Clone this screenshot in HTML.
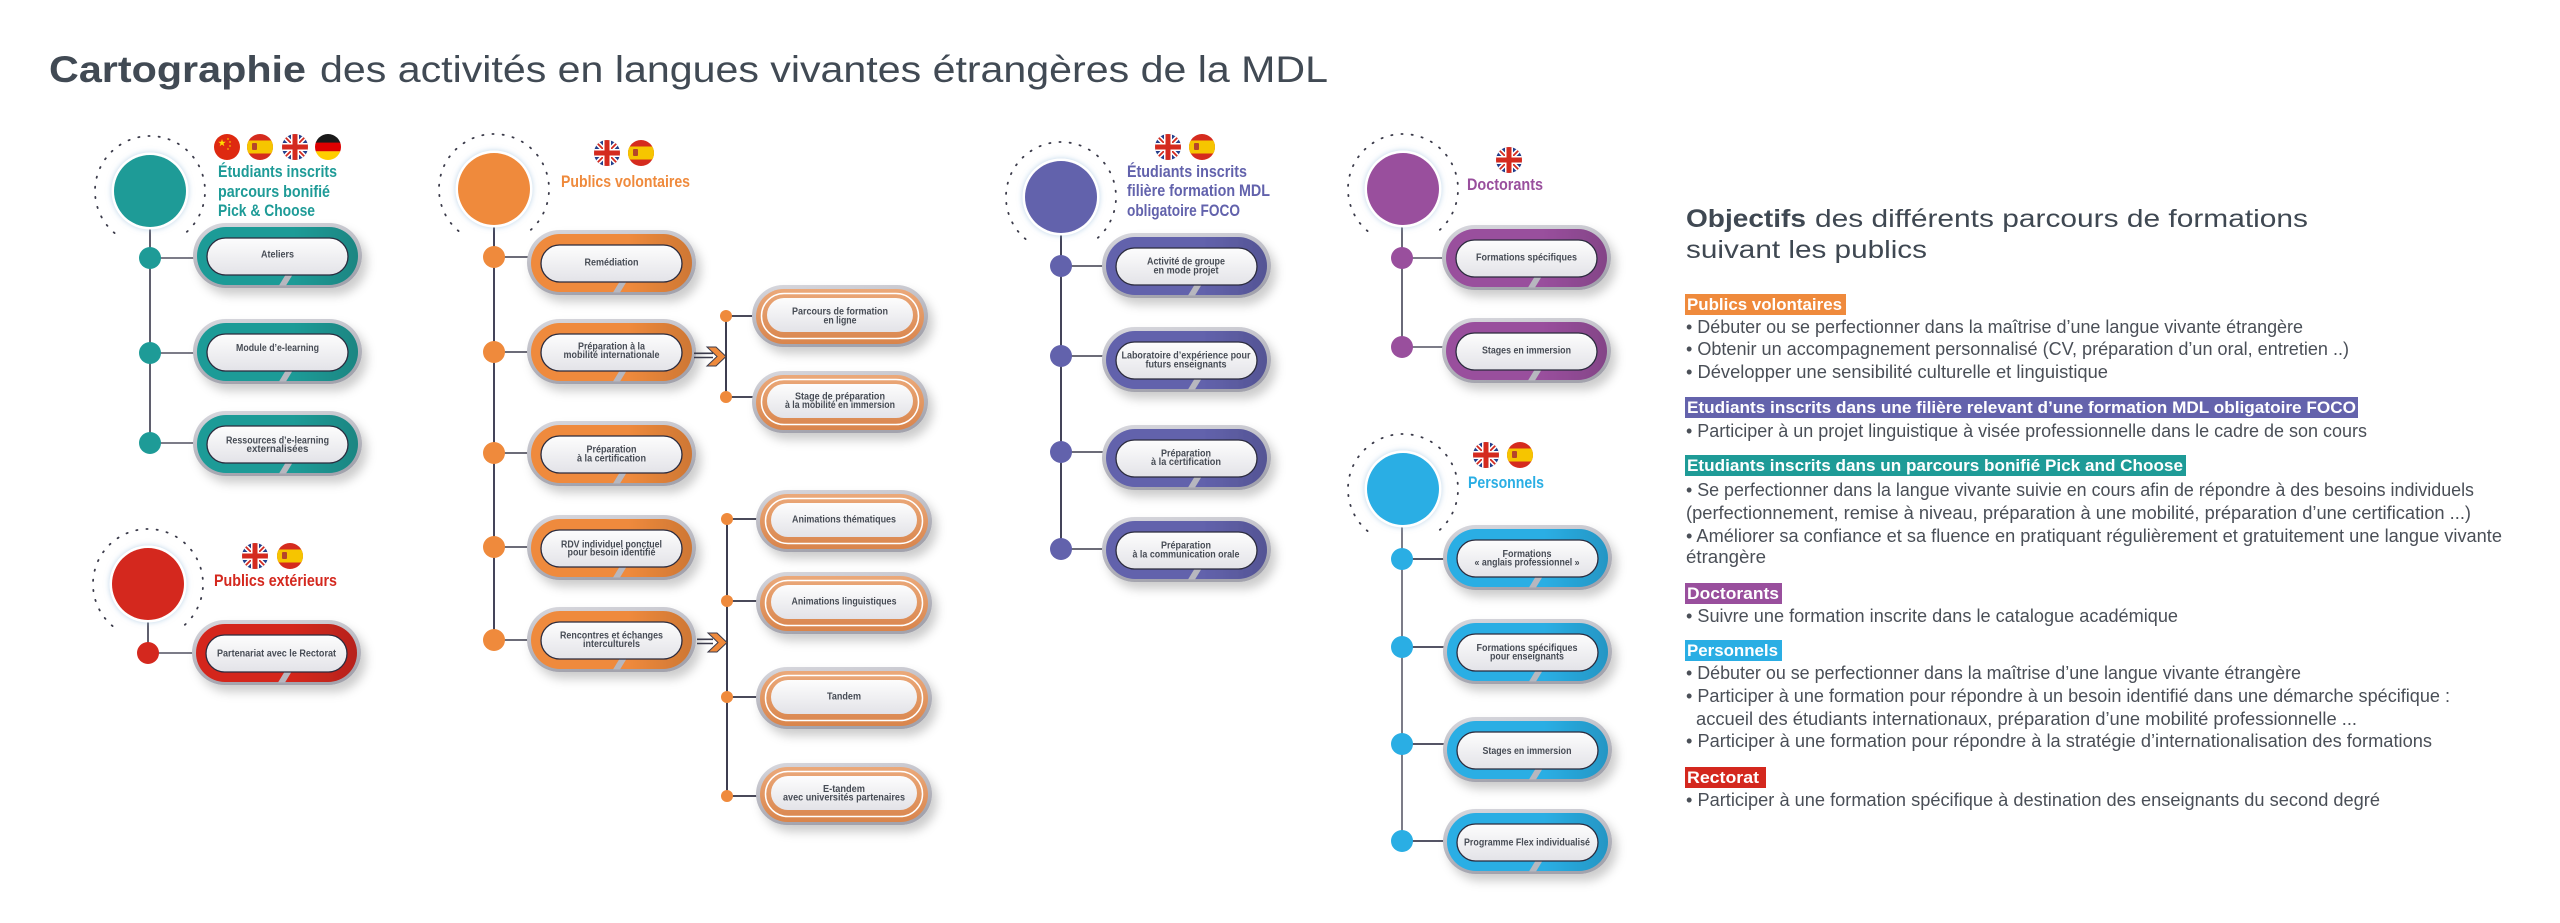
<!DOCTYPE html>
<html><head><meta charset="utf-8"><style>
html,body{margin:0;padding:0;background:#fff;}
svg{display:block;}
text{font-family:"Liberation Sans",Arial,sans-serif;}
.pl{font-size:10.5px;font-weight:700;fill:#474c55;text-anchor:middle;}
.hd{font-size:17px;font-weight:700;}
.bl{font-size:18px;fill:#4a4f57;}
.lb{font-size:17px;font-weight:700;fill:#fff;}
</style></head><body>
<svg width="2560" height="923" viewBox="0 0 2560 923" xmlns="http://www.w3.org/2000/svg" xmlns:xlink="http://www.w3.org/1999/xlink">
<defs>
<linearGradient id="gG" x1="0" y1="0" x2="0.3" y2="1"><stop offset="0" stop-color="#d8d8de"/><stop offset="1" stop-color="#a3a3ad"/></linearGradient>
<linearGradient id="gW" x1="0" y1="0" x2="0" y2="1"><stop offset="0" stop-color="#fdfdfd"/><stop offset="1" stop-color="#e3e3e8"/></linearGradient>
<linearGradient id="gO" x1="0" y1="0" x2="0" y2="1"><stop offset="0" stop-color="#eba97a"/><stop offset="1" stop-color="#d9854c"/></linearGradient>
<linearGradient id="gS" x1="0" y1="0" x2="1" y2="0"><stop offset="0.6" stop-color="#000" stop-opacity="0"/><stop offset="1" stop-color="#000" stop-opacity="0.14"/></linearGradient>
<filter id="sh" x="-15%" y="-25%" width="140%" height="170%"><feDropShadow dx="5" dy="7" stdDeviation="5" flood-color="#000" flood-opacity="0.2"/></filter>
<filter id="gl" x="-30%" y="-30%" width="160%" height="160%"><feDropShadow dx="0" dy="0" stdDeviation="3" flood-color="#8fb8da" flood-opacity="0.6"/></filter>
<clipPath id="fc"><circle cx="0" cy="0" r="13"/></clipPath>
<symbol id="mp" viewBox="0 0 169 65">
 <rect width="169" height="65" rx="32.5" fill="url(#gG)"/>
 <rect x="4" y="4" width="161" height="58" rx="29" fill="currentColor"/>
 <rect x="4" y="4" width="161" height="58" rx="29" fill="url(#gS)"/>
 <polygon points="86,62.5 93,62.5 100,51 93,51" fill="#b7b7bf"/>
 <rect x="14" y="15" width="141" height="37" rx="18.5" fill="url(#gW)" stroke="#2c2c3e" stroke-width="1.3"/>
</symbol>
<symbol id="sp" viewBox="0 0 176 62">
 <rect width="176" height="62" rx="31" fill="url(#gG)"/>
 <rect x="4" y="4" width="168" height="55" rx="27.5" fill="url(#gO)"/>
 <rect x="9.5" y="8.5" width="157" height="45" rx="22.5" fill="none" stroke="#fff" stroke-width="1.5"/>
 <rect x="15" y="13" width="146" height="34" rx="17" fill="url(#gW)"/>
</symbol>
<symbol id="fUK" viewBox="-13 -13 26 26"><g clip-path="url(#fc)">
 <rect x="-13" y="-13" width="26" height="26" fill="#233e8b"/>
 <path d="M-13,-13L13,13M13,-13L-13,13" stroke="#fff" stroke-width="5"/>
 <path d="M-13,-13L13,13M13,-13L-13,13" stroke="#d42a1f" stroke-width="1.8"/>
 <path d="M0,-13V13M-13,0H13" stroke="#fff" stroke-width="8"/>
 <path d="M0,-13V13M-13,0H13" stroke="#d42a1f" stroke-width="5"/>
</g></symbol>
<symbol id="fES" viewBox="-13 -13 26 26"><g clip-path="url(#fc)">
 <rect x="-13" y="-13" width="26" height="26" fill="#d52b1e"/>
 <rect x="-13" y="-6.5" width="26" height="13" fill="#f6c500"/>
 <rect x="-8" y="-4" width="5" height="7" rx="1" fill="#b5452a"/>
</g></symbol>
<symbol id="fCN" viewBox="-13 -13 26 26"><g clip-path="url(#fc)">
 <rect x="-13" y="-13" width="26" height="26" fill="#de2910"/>
 <polygon transform="translate(-5,-4) scale(4)" fill="#ffde00" points="0,-1 0.2245,-0.309 0.951,-0.309 0.363,0.118 0.588,0.809 0,0.382 -0.588,0.809 -0.363,0.118 -0.951,-0.309 -0.2245,-0.309"/>
 <polygon transform="translate(1,-8) scale(1.3)" fill="#ffde00" points="0,-1 0.2245,-0.309 0.951,-0.309 0.363,0.118 0.588,0.809 0,0.382 -0.588,0.809 -0.363,0.118 -0.951,-0.309 -0.2245,-0.309"/>
 <polygon transform="translate(3,-5) scale(1.3)" fill="#ffde00" points="0,-1 0.2245,-0.309 0.951,-0.309 0.363,0.118 0.588,0.809 0,0.382 -0.588,0.809 -0.363,0.118 -0.951,-0.309 -0.2245,-0.309"/>
 <polygon transform="translate(3,-1) scale(1.3)" fill="#ffde00" points="0,-1 0.2245,-0.309 0.951,-0.309 0.363,0.118 0.588,0.809 0,0.382 -0.588,0.809 -0.363,0.118 -0.951,-0.309 -0.2245,-0.309"/>
 <polygon transform="translate(1,2) scale(1.3)" fill="#ffde00" points="0,-1 0.2245,-0.309 0.951,-0.309 0.363,0.118 0.588,0.809 0,0.382 -0.588,0.809 -0.363,0.118 -0.951,-0.309 -0.2245,-0.309"/>
</g></symbol>
<symbol id="fDE" viewBox="-13 -13 26 26"><g clip-path="url(#fc)">
 <rect x="-13" y="-13" width="26" height="9" fill="#1a1a1a"/>
 <rect x="-13" y="-4.4" width="26" height="8.8" fill="#dd0000"/>
 <rect x="-13" y="4.3" width="26" height="9" fill="#ffce00"/>
</g></symbol>
</defs>

<!-- Title -->
<text x="49" y="82" font-size="37" font-weight="700" fill="#414a54" textLength="257" lengthAdjust="spacingAndGlyphs">Cartographie</text>
<text x="320" y="82" font-size="37" fill="#414a54" textLength="1008" lengthAdjust="spacingAndGlyphs">des activités en langues vivantes étrangères de la MDL</text>

<g fill="none" stroke-width="2">
<path d="M150,227V443" stroke="#5f5f6e"/>
<path d="M150,258H200M150,353H200M150,443H200" stroke="#7c7c88"/>
<path d="M148,620V653" stroke="#5f5f6e"/>
<path d="M148,653H198" stroke="#7c7c88"/>
<path d="M494,225V640" stroke="#44445a"/>
<path d="M494,257H533M494,352H533M494,453H533M494,547H533M494,640H533" stroke="#6c6c78"/>
<path d="M726,316V397M727,519V796" stroke="#3e3e50"/>
<path d="M726,316H756M726,397H756M727,519H760M727,601H760M727,697H760M727,796H760" stroke="#4a4a5a"/>
<path d="M1061,233V549" stroke="#44445a"/>
<path d="M1061,266H1108M1061,356H1108M1061,452H1108M1061,549H1108" stroke="#6c6c78"/>
<path d="M1402,225V347" stroke="#6a6a78"/>
<path d="M1402,258H1448M1402,347H1448" stroke="#7c7c88"/>
<path d="M1402,525V841" stroke="#7c7c88"/>
<path d="M1402,559H1449M1402,647H1449M1402,744H1449M1402,841H1449" stroke="#555566"/>
</g>

<!-- dotted arcs -->
<g fill="none" stroke="#3b3b4a" stroke-width="1.8" stroke-dasharray="1.2 9" stroke-linecap="round">
<path d="M114.6,233.1A55,55 0 1 1 185.4,233.1"/>
<path d="M112.6,626.1A55,55 0 1 1 183.4,626.1"/>
<path d="M458.6,231.1A55,55 0 1 1 529.4,231.1"/>
<path d="M1025.6,239.1A55,55 0 1 1 1096.4,239.1"/>
<path d="M1367.6,231.1A55,55 0 1 1 1438.4,231.1"/>
<path d="M1367.6,531.1A55,55 0 1 1 1438.4,531.1"/>
</g>

<!-- big nodes -->
<g fill="#fff" filter="url(#gl)">
<circle cx="150" cy="191" r="38.5"/>
<circle cx="148" cy="584" r="38.5"/>
<circle cx="494" cy="189" r="38.5"/>
<circle cx="1061" cy="197" r="38.5"/>
<circle cx="1403" cy="189" r="38.5"/>
<circle cx="1403" cy="489" r="38.5"/>
</g>
<circle cx="150" cy="191" r="36" fill="#1e9b97"/>
<circle cx="148" cy="584" r="36" fill="#d4281e"/>
<circle cx="494" cy="189" r="36" fill="#ef8a3c"/>
<circle cx="1061" cy="197" r="36" fill="#6262ac"/>
<circle cx="1403" cy="189" r="36" fill="#994f9d"/>
<circle cx="1403" cy="489" r="36" fill="#2aaee4"/>

<!-- main pills -->
<g filter="url(#sh)">
<use xlink:href="#mp" x="193" y="223" width="169" height="65" style="color:#1e9b97"/>
<use xlink:href="#mp" x="193" y="319" width="169" height="65" style="color:#1e9b97"/>
<use xlink:href="#mp" x="193" y="411" width="169" height="65" style="color:#1e9b97"/>
<use xlink:href="#mp" x="192" y="620" width="169" height="65" style="color:#d4281e"/>
<use xlink:href="#mp" x="527" y="230" width="169" height="65" style="color:#ef8a3c"/>
<use xlink:href="#mp" x="527" y="319" width="169" height="65" style="color:#ef8a3c"/>
<use xlink:href="#mp" x="527" y="421" width="169" height="65" style="color:#ef8a3c"/>
<use xlink:href="#mp" x="527" y="515" width="169" height="65" style="color:#ef8a3c"/>
<use xlink:href="#mp" x="527" y="607" width="169" height="65" style="color:#ef8a3c"/>
<use xlink:href="#sp" x="752" y="285" width="176" height="62"/>
<use xlink:href="#sp" x="752" y="371" width="176" height="62"/>
<use xlink:href="#sp" x="756" y="490" width="176" height="62"/>
<use xlink:href="#sp" x="756" y="572" width="176" height="62"/>
<use xlink:href="#sp" x="756" y="667" width="176" height="62"/>
<use xlink:href="#sp" x="756" y="763" width="176" height="62"/>
<use xlink:href="#mp" x="1102" y="233" width="169" height="65" style="color:#6262ac"/>
<use xlink:href="#mp" x="1102" y="327" width="169" height="65" style="color:#6262ac"/>
<use xlink:href="#mp" x="1102" y="425" width="169" height="65" style="color:#6262ac"/>
<use xlink:href="#mp" x="1102" y="517" width="169" height="65" style="color:#6262ac"/>
<use xlink:href="#mp" x="1442" y="225" width="169" height="65" style="color:#994f9d"/>
<use xlink:href="#mp" x="1442" y="318" width="169" height="65" style="color:#994f9d"/>
<use xlink:href="#mp" x="1443" y="525" width="169" height="65" style="color:#2aaee4"/>
<use xlink:href="#mp" x="1443" y="619" width="169" height="65" style="color:#2aaee4"/>
<use xlink:href="#mp" x="1443" y="717" width="169" height="65" style="color:#2aaee4"/>
<use xlink:href="#mp" x="1443" y="809" width="169" height="65" style="color:#2aaee4"/>
</g>

<!-- arrows -->
<g stroke="#3b3b4b" stroke-width="1.6">
<path d="M694,353.3H713M694,357.5H713"/>
<path d="M697,639.3H713M697,643.5H713"/>
</g>
<polygon points="707,347 716,347 726,356.5 716,366 707,366 717,356.5" fill="#ef8a3c" stroke="#3b3b4b" stroke-width="1"/>
<polygon points="708,633 717,633 727,642.5 717,652 708,652 718,642.5" fill="#ef8a3c" stroke="#3b3b4b" stroke-width="1"/>

<!-- dots -->
<g fill="#1e9b97"><circle cx="150" cy="258" r="11"/><circle cx="150" cy="353" r="11"/><circle cx="150" cy="443" r="11"/></g>
<circle cx="148" cy="653" r="11" fill="#d4281e"/>
<g fill="#ef8a3c"><circle cx="494" cy="257" r="11"/><circle cx="494" cy="352" r="11"/><circle cx="494" cy="453" r="11"/><circle cx="494" cy="547" r="11"/><circle cx="494" cy="640" r="11"/>
<circle cx="726" cy="316" r="6"/><circle cx="726" cy="397" r="6"/><circle cx="727" cy="519" r="6"/><circle cx="727" cy="601" r="6"/><circle cx="727" cy="697" r="6"/><circle cx="727" cy="796" r="6"/></g>
<g fill="#6262ac"><circle cx="1061" cy="266" r="11"/><circle cx="1061" cy="356" r="11"/><circle cx="1061" cy="452" r="11"/><circle cx="1061" cy="549" r="11"/></g>
<g fill="#994f9d"><circle cx="1402" cy="258" r="11"/><circle cx="1402" cy="347" r="11"/></g>
<g fill="#2aaee4"><circle cx="1402" cy="559" r="11"/><circle cx="1402" cy="647" r="11"/><circle cx="1402" cy="744" r="11"/><circle cx="1402" cy="841" r="11"/></g>

<!-- flags -->
<use xlink:href="#fCN" x="214" y="134" width="26" height="26"/>
<use xlink:href="#fES" x="247" y="134" width="26" height="26"/>
<use xlink:href="#fUK" x="282" y="134" width="26" height="26"/>
<use xlink:href="#fDE" x="315" y="134" width="26" height="26"/>
<use xlink:href="#fUK" x="242" y="543" width="26" height="26"/>
<use xlink:href="#fES" x="277" y="543" width="26" height="26"/>
<use xlink:href="#fUK" x="594" y="140" width="26" height="26"/>
<use xlink:href="#fES" x="628" y="140" width="26" height="26"/>
<use xlink:href="#fUK" x="1155" y="134" width="26" height="26"/>
<use xlink:href="#fES" x="1189" y="134" width="26" height="26"/>
<use xlink:href="#fUK" x="1496" y="147" width="26" height="26"/>
<use xlink:href="#fUK" x="1473" y="442" width="26" height="26"/>
<use xlink:href="#fES" x="1507" y="442" width="26" height="26"/>

<!-- headings -->
<g class="hd" fill="#1e9b97">
<text x="218" y="177" textLength="119" lengthAdjust="spacingAndGlyphs">Étudiants inscrits</text>
<text x="218" y="197" textLength="112" lengthAdjust="spacingAndGlyphs">parcours bonifié</text>
<text x="218" y="216" textLength="97" lengthAdjust="spacingAndGlyphs">Pick &amp; Choose</text>
</g>
<text class="hd" fill="#d4281e" x="214" y="586" textLength="123" lengthAdjust="spacingAndGlyphs">Publics extérieurs</text>
<text class="hd" fill="#ef8a3c" x="561" y="187" textLength="129" lengthAdjust="spacingAndGlyphs">Publics volontaires</text>
<g class="hd" fill="#6262ac">
<text x="1127" y="177" textLength="120" lengthAdjust="spacingAndGlyphs">Étudiants inscrits</text>
<text x="1127" y="196" textLength="143" lengthAdjust="spacingAndGlyphs">filière formation MDL</text>
<text x="1127" y="216" textLength="113" lengthAdjust="spacingAndGlyphs">obligatoire FOCO</text>
</g>
<text class="hd" fill="#994f9d" x="1467" y="190" textLength="76" lengthAdjust="spacingAndGlyphs">Doctorants</text>
<text class="hd" fill="#2aaee4" x="1468" y="488" textLength="76" lengthAdjust="spacingAndGlyphs">Personnels</text>

<!-- pill labels -->
<g class="pl">
<text x="277.5" y="257.6" textLength="33" lengthAdjust="spacingAndGlyphs">Ateliers</text>
<text x="277.5" y="351" textLength="83" lengthAdjust="spacingAndGlyphs">Module d’e-learning</text>
<text x="277.5" y="443.5" textLength="103" lengthAdjust="spacingAndGlyphs">Ressources d’e-learning</text>
<text x="277.5" y="452" textLength="62" lengthAdjust="spacingAndGlyphs">externalisées</text>
<text x="276.5" y="656.5" textLength="119" lengthAdjust="spacingAndGlyphs">Partenariat avec le Rectorat</text>

<text x="611.5" y="265.3" textLength="54" lengthAdjust="spacingAndGlyphs">Remédiation</text>
<text x="611.5" y="349.3" textLength="67" lengthAdjust="spacingAndGlyphs">Préparation à la</text>
<text x="611.5" y="358" textLength="96" lengthAdjust="spacingAndGlyphs">mobilité internationale</text>
<text x="611.5" y="452.6" textLength="50" lengthAdjust="spacingAndGlyphs">Préparation</text>
<text x="611.5" y="461.3" textLength="69" lengthAdjust="spacingAndGlyphs">à la certification</text>
<text x="611.5" y="547.3" textLength="101" lengthAdjust="spacingAndGlyphs">RDV individuel ponctuel</text>
<text x="611.5" y="555.6" textLength="88" lengthAdjust="spacingAndGlyphs">pour besoin identifié</text>
<text x="611.5" y="638.6" textLength="103" lengthAdjust="spacingAndGlyphs">Rencontres et échanges</text>
<text x="611.5" y="647" textLength="57" lengthAdjust="spacingAndGlyphs">interculturels</text>

<text x="840" y="314.6" textLength="96" lengthAdjust="spacingAndGlyphs">Parcours de formation</text>
<text x="840" y="323.6" textLength="33" lengthAdjust="spacingAndGlyphs">en ligne</text>
<text x="840" y="399.3" textLength="90" lengthAdjust="spacingAndGlyphs">Stage de préparation</text>
<text x="840" y="408" textLength="110" lengthAdjust="spacingAndGlyphs">à la mobilité en immersion</text>
<text x="844" y="522.6" textLength="104" lengthAdjust="spacingAndGlyphs">Animations thématiques</text>
<text x="844" y="604.3" textLength="105" lengthAdjust="spacingAndGlyphs">Animations linguistiques</text>
<text x="844" y="699.3" textLength="34" lengthAdjust="spacingAndGlyphs">Tandem</text>
<text x="844" y="792" textLength="42" lengthAdjust="spacingAndGlyphs">E-tandem</text>
<text x="844" y="800.3" textLength="122" lengthAdjust="spacingAndGlyphs">avec universités partenaires</text>

<text x="1186" y="264.6" textLength="78" lengthAdjust="spacingAndGlyphs">Activité de groupe</text>
<text x="1186" y="273.3" textLength="65" lengthAdjust="spacingAndGlyphs">en mode projet</text>
<text x="1186" y="358.6" textLength="129" lengthAdjust="spacingAndGlyphs">Laboratoire d’expérience pour</text>
<text x="1186" y="367.3" textLength="81" lengthAdjust="spacingAndGlyphs">futurs enseignants</text>
<text x="1186" y="456.3" textLength="50" lengthAdjust="spacingAndGlyphs">Préparation</text>
<text x="1186" y="465" textLength="70" lengthAdjust="spacingAndGlyphs">à la certification</text>
<text x="1186" y="548.6" textLength="50" lengthAdjust="spacingAndGlyphs">Préparation</text>
<text x="1186" y="557.3" textLength="107" lengthAdjust="spacingAndGlyphs">à la communication orale</text>

<text x="1526.5" y="260.3" textLength="101" lengthAdjust="spacingAndGlyphs">Formations spécifiques</text>
<text x="1526.5" y="353.6" textLength="89" lengthAdjust="spacingAndGlyphs">Stages en immersion</text>

<text x="1527" y="557" textLength="49" lengthAdjust="spacingAndGlyphs">Formations</text>
<text x="1527" y="565.6" textLength="105" lengthAdjust="spacingAndGlyphs">« anglais professionnel »</text>
<text x="1527" y="651" textLength="101" lengthAdjust="spacingAndGlyphs">Formations spécifiques</text>
<text x="1527" y="659.6" textLength="74" lengthAdjust="spacingAndGlyphs">pour enseignants</text>
<text x="1527" y="754" textLength="89" lengthAdjust="spacingAndGlyphs">Stages en immersion</text>
<text x="1527" y="845.3" textLength="126" lengthAdjust="spacingAndGlyphs">Programme Flex individualisé</text>
</g>

<!-- ============ RIGHT PANEL ============ -->
<text x="1686" y="227" font-size="25" font-weight="700" fill="#3f4852" textLength="120" lengthAdjust="spacingAndGlyphs">Objectifs</text>
<text x="1815" y="227" font-size="25" fill="#3f4852" textLength="493" lengthAdjust="spacingAndGlyphs">des différents parcours de formations</text>
<text x="1686" y="258" font-size="25" fill="#3f4852" textLength="241" lengthAdjust="spacingAndGlyphs">suivant les publics</text>

<rect x="1685" y="294" width="161" height="21" fill="#ef8a3c"/>
<text class="lb" x="1687" y="310" textLength="155" lengthAdjust="spacingAndGlyphs">Publics volontaires</text>
<text class="bl" x="1686" y="333" textLength="617" lengthAdjust="spacingAndGlyphs">• Débuter ou se perfectionner dans la maîtrise d’une langue vivante étrangère</text>
<text class="bl" x="1686" y="355" textLength="663" lengthAdjust="spacingAndGlyphs">• Obtenir un accompagnement personnalisé (CV, préparation d’un oral, entretien ..)</text>
<text class="bl" x="1686" y="378" textLength="422" lengthAdjust="spacingAndGlyphs">• Développer une sensibilité culturelle et linguistique</text>

<rect x="1685" y="397" width="673" height="21" fill="#6463ac"/>
<text class="lb" x="1687" y="413" textLength="669" lengthAdjust="spacingAndGlyphs">Etudiants inscrits dans une filière relevant d’une formation MDL obligatoire FOCO</text>
<text class="bl" x="1686" y="437" textLength="681" lengthAdjust="spacingAndGlyphs">• Participer à un projet linguistique à visée professionnelle dans le cadre de son cours</text>

<rect x="1685" y="455" width="501" height="21" fill="#1e9b97"/>
<text class="lb" x="1687" y="471" textLength="496" lengthAdjust="spacingAndGlyphs">Etudiants inscrits dans un parcours bonifié Pick and Choose</text>
<text class="bl" x="1686" y="496" textLength="788" lengthAdjust="spacingAndGlyphs">• Se perfectionner dans la langue vivante suivie en cours afin de répondre à des besoins individuels</text>
<text class="bl" x="1686" y="519" textLength="785" lengthAdjust="spacingAndGlyphs">(perfectionnement, remise à niveau, préparation à une mobilité, préparation d’une certification ...)</text>
<text class="bl" x="1686" y="542" textLength="816" lengthAdjust="spacingAndGlyphs">• Améliorer sa confiance et sa fluence en pratiquant régulièrement et gratuitement une langue vivante</text>
<text class="bl" x="1686" y="563" textLength="80" lengthAdjust="spacingAndGlyphs">étrangère</text>

<rect x="1685" y="583" width="97" height="21" fill="#994f9d"/>
<text class="lb" x="1687" y="599" textLength="92" lengthAdjust="spacingAndGlyphs">Doctorants</text>
<text class="bl" x="1686" y="622" textLength="492" lengthAdjust="spacingAndGlyphs">• Suivre une formation inscrite dans le catalogue académique</text>

<rect x="1685" y="640" width="97" height="21" fill="#2aaee4"/>
<text class="lb" x="1687" y="656" textLength="91" lengthAdjust="spacingAndGlyphs">Personnels</text>
<text class="bl" x="1686" y="679" textLength="615" lengthAdjust="spacingAndGlyphs">• Débuter ou se perfectionner dans la maîtrise d’une langue vivante étrangère</text>
<text class="bl" x="1686" y="702" textLength="764" lengthAdjust="spacingAndGlyphs">• Participer à une formation pour répondre à un besoin identifié dans une démarche spécifique :</text>
<text class="bl" x="1696" y="725" textLength="661" lengthAdjust="spacingAndGlyphs">accueil des étudiants internationaux, préparation d’une mobilité professionnelle ...</text>
<text class="bl" x="1686" y="747" textLength="746" lengthAdjust="spacingAndGlyphs">• Participer à une formation pour répondre à la stratégie d’internationalisation des formations</text>

<rect x="1685" y="767" width="81" height="21" fill="#d4281e"/>
<text class="lb" x="1687" y="783" textLength="72" lengthAdjust="spacingAndGlyphs">Rectorat</text>
<text class="bl" x="1686" y="806" textLength="694" lengthAdjust="spacingAndGlyphs">• Participer à une formation spécifique à destination des enseignants du second degré</text>
</svg>
</body></html>
